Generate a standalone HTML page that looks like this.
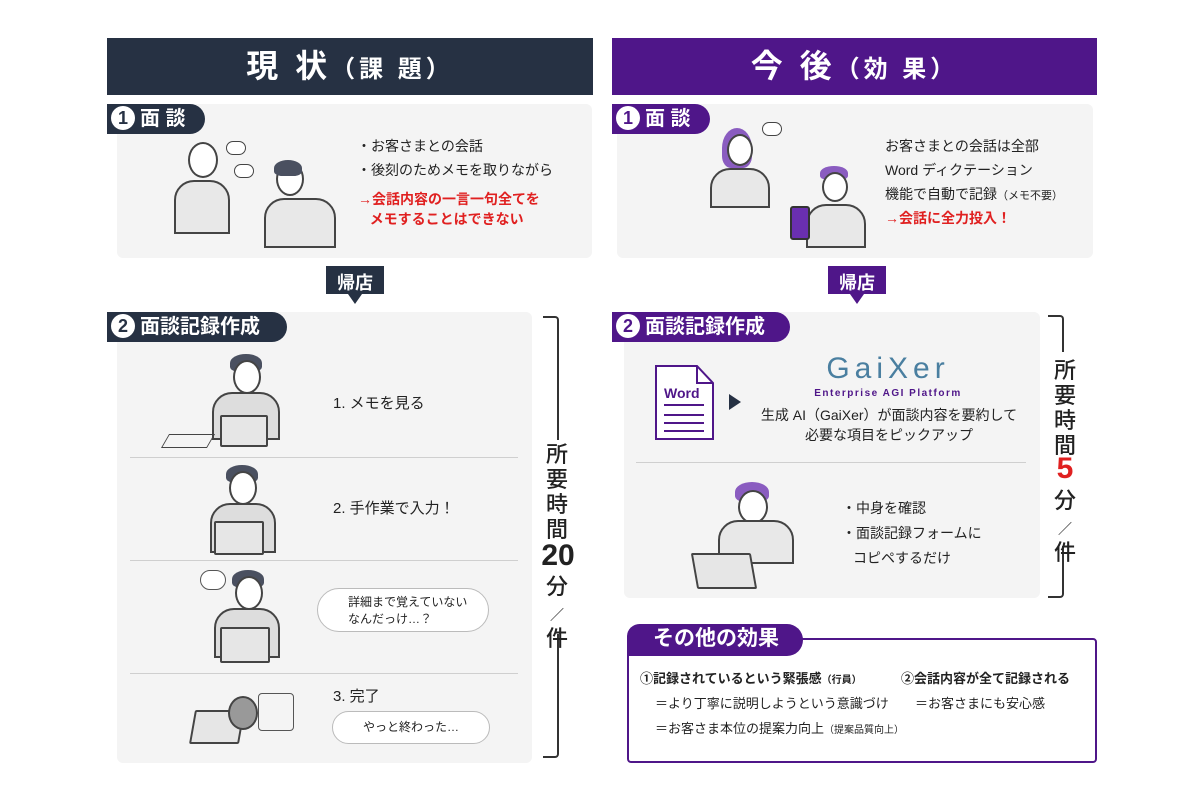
<!DOCTYPE html>
<html><head><meta charset="utf-8"><style>
body{margin:0;width:1200px;height:800px;background:#fff;position:relative;overflow:hidden;font-family:"Liberation Sans","Noto Sans CJK JP",sans-serif;color:#222}
.a{position:absolute}
.hdr{color:#fff;font-weight:bold;font-size:32px;text-align:center;line-height:57px;letter-spacing:4px}
.hdr small{font-size:24px}
.panel{background:#f4f4f4;border-radius:6px}
.badge{color:#fff;font-weight:bold;font-size:20px;line-height:30px;border-radius:0 16px 16px 0;padding-left:4px;white-space:nowrap}
.num{display:inline-block;width:24px;height:24px;border-radius:50%;background:#fff;font-size:18px;line-height:24px;text-align:center;margin:0 5px 0 0;vertical-align:1px}
.t{font-size:14px;line-height:25px;white-space:nowrap}
.red{color:#e02020;font-weight:bold}
.hr{height:1px;background:#cfcfcf}
.vt{font-size:22px;text-align:center;line-height:25px;width:30px;font-weight:500}
.bub{border:1px solid #bbb;background:#fff;border-radius:22px;font-size:12px;text-align:center}
.lap{background:#e6e6e6;border:2px solid #444;border-radius:2px}
.head{border-radius:50%;background:#fff;border:2px solid #444}
.hair{background:#4a5060;border-radius:50% 50% 30% 30%}
.body{background:#ddd;border:2px solid #444;border-radius:20px 20px 0 0}
</style></head><body>
<div class="a hdr" style="left:107px;top:38px;width:486px;height:57px;background:#263143">現 状<small>（課 題）</small></div>
<div class="a hdr" style="left:612px;top:38px;width:485px;height:57px;background:#4f1689">今 後<small>（効 果）</small></div>

<div class="a panel" style="left:117px;top:104px;width:475px;height:154px"></div>
<div class="a badge" style="left:107px;top:104px;width:94px;background:#263143"><span class="num" style="color:#263143">1</span>面 談</div>
<div class="a head" style="left:188px;top:142px;width:26px;height:32px"></div>
<div class="a body" style="left:174px;top:180px;width:52px;height:50px;background:#e8e8e8"></div>
<div class="a head" style="left:276px;top:162px;width:24px;height:30px"></div>
<div class="a hair" style="left:274px;top:160px;width:28px;height:16px"></div>
<div class="a body" style="left:264px;top:198px;width:68px;height:46px;background:#e8e8e8"></div>
<div class="a bub" style="left:226px;top:141px;width:18px;height:12px;border-color:#444"></div>
<div class="a bub" style="left:234px;top:164px;width:18px;height:12px;border-color:#444"></div>
<div class="a t" style="left:357px;top:134px">・お客さまとの会話</div>
<div class="a t" style="left:357px;top:158px">・後刻のためメモを取りながら</div>
<div class="a t red" style="left:358px;top:189px;line-height:20px">→会話内容の一言一句全てを<br>&nbsp;&nbsp;&nbsp;メモすることはできない</div>

<div class="a panel" style="left:617px;top:104px;width:476px;height:154px"></div>
<div class="a badge" style="left:612px;top:104px;width:94px;background:#4f1689"><span class="num" style="color:#4f1689">1</span>面 談</div>
<div class="a hair" style="left:722px;top:128px;width:30px;height:40px;background:#8a5cc0"></div>
<div class="a head" style="left:727px;top:134px;width:22px;height:28px"></div>
<div class="a body" style="left:710px;top:168px;width:56px;height:36px;background:#e8e8e8"></div>
<div class="a hair" style="left:820px;top:166px;width:28px;height:14px;background:#8a5cc0"></div>
<div class="a head" style="left:822px;top:172px;width:22px;height:26px"></div>
<div class="a body" style="left:806px;top:204px;width:56px;height:40px;background:#e8e8e8"></div>
<div class="a" style="left:790px;top:206px;width:16px;height:30px;background:#6a2fb0;border:2px solid #333;border-radius:3px"></div>
<div class="a bub" style="left:762px;top:122px;width:18px;height:12px;border-color:#444"></div>
<div class="a t" style="left:885px;top:134px">お客さまとの会話は全部</div>
<div class="a t" style="left:885px;top:158px">Word ディクテーション</div>
<div class="a t" style="left:885px;top:182px">機能で自動で記録<span style="font-size:11px">（メモ不要）</span></div>
<div class="a t red" style="left:885px;top:206px">→会話に全力投入！</div>

<svg class="a" style="left:320px;top:262px" width="70" height="46"><polygon points="6,4 64,4 64,32 42,32 35,42 28,32 6,32" fill="#263143"/><text x="35" y="27" fill="#fff" font-size="18" font-weight="bold" text-anchor="middle" font-family="Liberation Sans,Noto Sans CJK JP,sans-serif">帰店</text></svg>
<svg class="a" style="left:822px;top:262px" width="70" height="46"><polygon points="6,4 64,4 64,32 42,32 35,42 28,32 6,32" fill="#4f1689"/><text x="35" y="27" fill="#fff" font-size="18" font-weight="bold" text-anchor="middle" font-family="Liberation Sans,Noto Sans CJK JP,sans-serif">帰店</text></svg>

<div class="a panel" style="left:117px;top:312px;width:415px;height:451px"></div>
<div class="a badge" style="left:107px;top:312px;width:176px;background:#263143"><span class="num" style="color:#263143">2</span>面談記録作成</div>
<div class="a hr" style="left:130px;top:457px;width:388px"></div>
<div class="a hr" style="left:130px;top:560px;width:388px"></div>
<div class="a hr" style="left:130px;top:673px;width:388px"></div>
<div class="a hair" style="left:230px;top:354px;width:32px;height:18px"></div>
<div class="a head" style="left:233px;top:360px;width:24px;height:30px"></div>
<div class="a body" style="left:212px;top:392px;width:64px;height:44px"></div>
<div class="a lap" style="left:220px;top:415px;width:44px;height:28px"></div>
<div class="a" style="left:165px;top:434px;width:44px;height:12px;border:1px solid #444;transform:skewX(-30deg)"></div>
<div class="a t" style="left:333px;top:391px;font-size:15px">1. メモを見る</div>

<div class="a hair" style="left:226px;top:465px;width:32px;height:18px"></div>
<div class="a head" style="left:229px;top:471px;width:24px;height:30px"></div>
<div class="a body" style="left:210px;top:503px;width:62px;height:46px"></div>
<div class="a lap" style="left:214px;top:521px;width:46px;height:30px"></div>
<div class="a t" style="left:333px;top:496px;font-size:15px">2. 手作業で入力！</div>

<div class="a hair" style="left:232px;top:570px;width:32px;height:18px"></div>
<div class="a head" style="left:235px;top:576px;width:24px;height:30px"></div>
<div class="a body" style="left:214px;top:608px;width:62px;height:46px"></div>
<div class="a lap" style="left:220px;top:627px;width:46px;height:32px"></div>
<div class="a" style="left:200px;top:570px;width:24px;height:18px;border:1px solid #555;border-radius:10px;background:#fff"></div>
<div class="a bub" style="left:317px;top:588px;width:170px;height:42px;line-height:17px;text-align:left"><div style="margin:5px 0 0 30px">詳細まで覚えていない<br>なんだっけ…？</div></div>

<div class="a lap" style="left:192px;top:710px;width:46px;height:30px;transform:skewX(-10deg)"></div>
<div class="a head" style="left:228px;top:696px;width:26px;height:30px;background:#999"></div>
<div class="a" style="left:258px;top:693px;width:34px;height:36px;border:1px solid #555;border-radius:4px"></div>
<div class="a t" style="left:333px;top:684px;font-size:15px">3. 完了</div>
<div class="a bub" style="left:332px;top:711px;width:156px;height:31px;line-height:31px">やっと終わった…</div>

<div class="a" style="left:543px;top:316px;width:16px;height:442px;border:2px solid #333;border-left:none;border-radius:0 4px 4px 0;box-sizing:border-box"></div>
<div class="a" style="left:545px;top:440px;width:24px;height:194px;background:#fff"></div>
<div class="a vt" style="left:542px;top:442px">所<br>要<br>時<br>間</div>
<div class="a" style="left:536px;top:540px;width:44px;text-align:center;font-size:30px;font-weight:bold;line-height:32px">20</div>
<div class="a vt" style="left:542px;top:574px;line-height:26px">分<br><span style="font-size:14px;line-height:10px">／</span><br>件</div>

<div class="a panel" style="left:624px;top:312px;width:416px;height:286px"></div>
<div class="a badge" style="left:612px;top:312px;width:174px;background:#4f1689"><span class="num" style="color:#4f1689">2</span>面談記録作成</div>
<svg class="a" style="left:655px;top:365px" width="60" height="76"><polygon points="1,1 42,1 58,18 58,74 1,74" fill="#fff" stroke="#4f1689" stroke-width="2"/><polyline points="42,1 42,18 58,18" fill="none" stroke="#4f1689" stroke-width="2"/><text x="9" y="33" font-size="14" font-weight="bold" fill="#4f1689" font-family="Liberation Sans,sans-serif">Word</text><g stroke="#4f1689" stroke-width="2"><line x1="9" y1="40" x2="49" y2="40"/><line x1="9" y1="50" x2="49" y2="50"/><line x1="9" y1="58" x2="49" y2="58"/><line x1="9" y1="66" x2="49" y2="66"/></g></svg>
<div class="a" style="left:729px;top:394px;width:0;height:0;border-left:12px solid #263143;border-top:8px solid transparent;border-bottom:8px solid transparent"></div>
<div class="a" style="left:810px;top:352px;width:156px;text-align:center;font-size:30px;letter-spacing:5px;color:#4a7fa0;line-height:34px">GaiXer</div>
<div class="a" style="left:800px;top:388px;width:176px;text-align:center;font-size:10px;letter-spacing:1.5px;color:#4f1689;font-weight:bold">Enterprise AGI Platform</div>
<div class="a t" style="left:752px;top:405px;width:274px;text-align:center;line-height:20px">生成 AI（GaiXer）が面談内容を要約して<br>必要な項目をピックアップ</div>
<div class="a hr" style="left:636px;top:462px;width:390px"></div>
<div class="a hair" style="left:735px;top:482px;width:34px;height:20px;background:#8a5cc0"></div>
<div class="a head" style="left:738px;top:490px;width:26px;height:30px"></div>
<div class="a body" style="left:718px;top:520px;width:72px;height:40px;background:#e8e8e8"></div>
<div class="a lap" style="left:694px;top:553px;width:56px;height:32px;transform:skewX(10deg)"></div>
<div class="a t" style="left:842px;top:496px">・中身を確認</div>
<div class="a t" style="left:842px;top:521px">・面談記録フォームに</div>
<div class="a t" style="left:853px;top:546px">コピペするだけ</div>

<div class="a" style="left:1048px;top:315px;width:16px;height:283px;border:2px solid #333;border-left:none;border-radius:0 4px 4px 0;box-sizing:border-box"></div>
<div class="a" style="left:1050px;top:352px;width:24px;height:194px;background:#fff"></div>
<div class="a vt" style="left:1050px;top:358px">所<br>要<br>時<br>間</div>
<div class="a" style="left:1050px;top:452px;width:30px;text-align:center;font-size:30px;font-weight:bold;color:#e02020;line-height:34px">5</div>
<div class="a vt" style="left:1050px;top:488px;line-height:26px">分<br><span style="font-size:14px;line-height:10px">／</span><br>件</div>

<div class="a" style="left:627px;top:638px;width:470px;height:125px;border:2px solid #4f1689;border-radius:4px;box-sizing:border-box"></div>
<div class="a badge" style="left:627px;top:624px;width:176px;height:32px;background:#4f1689;padding-left:26px;box-sizing:border-box;border-radius:14px 18px 18px 0;font-size:21px">その他の効果</div>
<div class="a" style="left:640px;top:668px;font-size:13px;font-weight:bold;white-space:nowrap">①記録されているという緊張感<span style="font-size:10px">（行員）</span></div>
<div class="a" style="left:901px;top:668px;font-size:13px;font-weight:bold;white-space:nowrap">②会話内容が全て記録される</div>
<div class="a" style="left:655px;top:693px;font-size:13px;white-space:nowrap">＝より丁寧に説明しようという意識づけ</div>
<div class="a" style="left:915px;top:693px;font-size:13px;white-space:nowrap">＝お客さまにも安心感</div>
<div class="a" style="left:655px;top:718px;font-size:13px;white-space:nowrap">＝お客さま本位の提案力向上<span style="font-size:10px">（提案品質向上）</span></div>
</body></html>
